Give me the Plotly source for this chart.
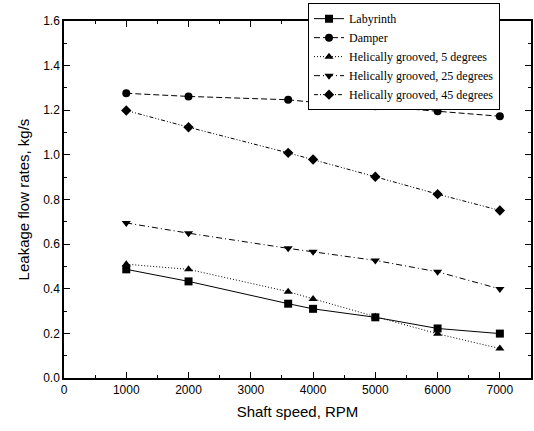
import plotly.graph_objects as go

speed = [1000, 2000, 3600, 4000, 5000, 6000, 7000]
labyrinth = [0.487, 0.433, 0.333, 0.31, 0.272, 0.222, 0.199]
damper = [1.276, 1.262, 1.247, 1.236, 1.218, 1.196, 1.173]
hg5 = [0.51, 0.487, 0.387, 0.354, 0.275, 0.198, 0.132]
hg25 = [0.695, 0.649, 0.581, 0.566, 0.527, 0.476, 0.399]
hg45 = [1.199, 1.124, 1.009, 0.979, 0.902, 0.824, 0.751]

series = [
    ("Labyrinth", labyrinth, "square", "solid"),
    ("Damper", damper, "circle", "6px,3px"),
    ("Helically grooved, 5 degrees", hg5, "triangle-up", "1px,2px"),
    ("Helically grooved, 25 degrees", hg25, "triangle-down", "6px,3px,1px,3px"),
    ("Helically grooved, 45 degrees", hg45, "diamond", "4px,2px,1px,2px,1px,2px"),
]

fig = go.Figure()
for name, vals, sym, dash in series:
    fig.add_trace(go.Scatter(
        x=speed, y=vals, name=name, mode="lines+markers",
        line=dict(color="black", width=1, dash=dash),
        marker=dict(symbol=sym, size=8, color="black"),
    ))

sans = "Liberation Sans"
axis_common = dict(
    showline=True, linecolor="black", linewidth=1.5, mirror="ticks",
    ticks="inside", ticklen=6, tickcolor="black", showgrid=False, zeroline=False,
    automargin=False,
    tickfont=dict(family=sans, size=12, color="black"),
)
fig.update_xaxes(range=[0, 7500], dtick=1000, tick0=0,
                 minor=dict(ticks="inside", ticklen=3, dtick=500, tickcolor="black"),
                 title=dict(text="Shaft speed, RPM", font=dict(family=sans, size=15, color="black"), standoff=10),
                 **axis_common)
fig.update_yaxes(range=[0, 1.6], dtick=0.2, tick0=0, tickformat=".1f",
                 minor=dict(ticks="inside", ticklen=3, dtick=0.1, tickcolor="black"),
                 title=dict(text="Leakage flow rates, kg/s", font=dict(family=sans, size=15, color="black"), standoff=10),
                 **axis_common)

fig.update_layout(
    width=534, height=431,
    margin=dict(l=64, r=3, t=18, b=53),
    paper_bgcolor="white", plot_bgcolor="white",
    legend=dict(x=0.5225, y=1.05, xanchor="left", yanchor="top",
                bgcolor="white", bordercolor="black", borderwidth=1,
                font=dict(family="Times New Roman, Liberation Serif, serif", size=12, color="black"),
                tracegroupgap=0, itemwidth=30),
    showlegend=True,
)
fig.write_html("out.html", config={"displayModeBar": False},
               post_script="document.body.style.margin='0';document.body.style.padding='0';")
